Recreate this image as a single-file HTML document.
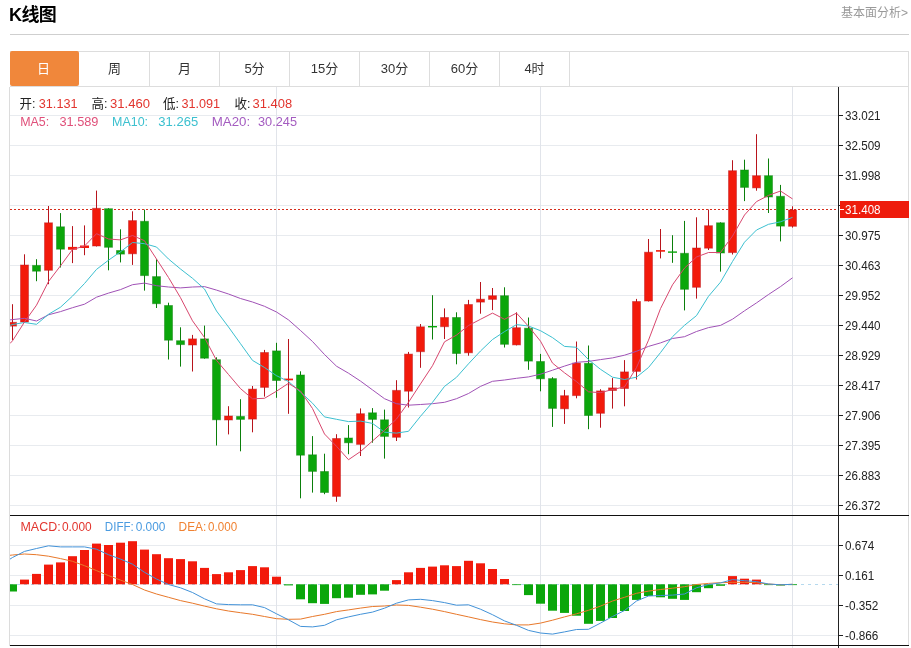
<!DOCTYPE html>
<html lang="zh-CN"><head><meta charset="utf-8"><title>K线图</title>
<style>
html,body{margin:0;padding:0;background:#fff;}
body{width:911px;height:648px;overflow:hidden;position:relative;font-family:"Liberation Sans","Noto Sans CJK SC",sans-serif;}
.title{position:absolute;left:9px;top:2.5px;font-size:18px;font-weight:bold;color:#000;line-height:24px;letter-spacing:-0.6px}
.more{position:absolute;right:3px;top:4px;font-size:12px;color:#999;line-height:18px;}
.hr{position:absolute;left:10px;top:34px;width:899px;height:1px;background:#cfcfcf;}
.tabs{position:absolute;left:10px;top:51px;width:898px;height:34px;border:1px solid #ddd;border-left:none;}
.tab{position:absolute;top:0;width:69px;height:34px;border-right:1px solid #ddd;text-align:center;line-height:34px;font-size:13px;color:#333;}
.tab.on{background:#f0873b;color:#fff;top:-1px;height:35px;line-height:35px;border-right:none;width:67px;padding-right:2px;border-radius:2px}
</style></head><body>
<svg width="911" height="648" viewBox="0 0 911 648" style="position:absolute;left:0;top:0">
<defs><clipPath id="cp"><rect x="10" y="87" width="829" height="560"/></clipPath></defs>
<g shape-rendering="crispEdges" fill="#e8ebef">
<rect x="10" y="115" width="828" height="1"/>
<rect x="10" y="145" width="828" height="1"/>
<rect x="10" y="175" width="828" height="1"/>
<rect x="10" y="205" width="828" height="1"/>
<rect x="10" y="235" width="828" height="1"/>
<rect x="10" y="265" width="828" height="1"/>
<rect x="10" y="295" width="828" height="1"/>
<rect x="10" y="325" width="828" height="1"/>
<rect x="10" y="355" width="828" height="1"/>
<rect x="10" y="385" width="828" height="1"/>
<rect x="10" y="415" width="828" height="1"/>
<rect x="10" y="445" width="828" height="1"/>
<rect x="10" y="475" width="828" height="1"/>
<rect x="10" y="505" width="828" height="1"/>
<rect x="10" y="545" width="828" height="1"/>
<rect x="10" y="575" width="828" height="1"/>
<rect x="10" y="605" width="828" height="1"/>
<rect x="10" y="635" width="828" height="1"/>
<rect x="276" y="87" width="1" height="561" fill="#e1e4ea"/>
<rect x="540" y="87" width="1" height="561" fill="#e1e4ea"/>
<rect x="792" y="87" width="1" height="561" fill="#e1e4ea"/>
<rect x="9" y="87" width="1" height="559" fill="#dcdcdc"/>
<rect x="908" y="87" width="1" height="559" fill="#dddddd"/>
</g>
<line x1="10" y1="584.5" x2="838" y2="584.5" stroke="#b5d9ee" stroke-width="1" stroke-dasharray="3,4"/>
<line x1="10" y1="209.5" x2="838" y2="209.5" stroke="#d62c1c" stroke-width="1" stroke-dasharray="2,2"/>
<g clip-path="url(#cp)">
<rect x="12.0" y="304.2" width="1" height="35.9" fill="#b8141c"/>
<rect x="8.5" y="322.3" width="8" height="3.8" fill="#f21a0b" stroke="#b8141c" stroke-opacity="0.45" stroke-width="1"/>
<rect x="24.0" y="254.3" width="1" height="68.2" fill="#b8141c"/>
<rect x="20.5" y="265.0" width="8" height="57.0" fill="#f21a0b" stroke="#b8141c" stroke-opacity="0.45" stroke-width="1"/>
<rect x="36.0" y="259.2" width="1" height="22.0" fill="#0b7f0b"/>
<rect x="32.5" y="265.4" width="8" height="5.8" fill="#0ba60b" stroke="#0b7f0b" stroke-opacity="0.45" stroke-width="1"/>
<rect x="48.0" y="206.0" width="1" height="78.2" fill="#b8141c"/>
<rect x="44.5" y="222.8" width="8" height="47.5" fill="#f21a0b" stroke="#b8141c" stroke-opacity="0.45" stroke-width="1"/>
<rect x="60.0" y="213.1" width="1" height="54.4" fill="#0b7f0b"/>
<rect x="56.5" y="226.8" width="8" height="22.4" fill="#0ba60b" stroke="#0b7f0b" stroke-opacity="0.45" stroke-width="1"/>
<rect x="72.0" y="226.1" width="1" height="37.0" fill="#b8141c"/>
<rect x="68.0" y="246.9" width="9" height="2.8" fill="#f21a0b"/>
<rect x="84.0" y="225.4" width="1" height="29.8" fill="#b8141c"/>
<rect x="80.0" y="245.5" width="9" height="2.5" fill="#f21a0b"/>
<rect x="96.0" y="190.6" width="1" height="55.9" fill="#b8141c"/>
<rect x="92.5" y="208.3" width="8" height="37.7" fill="#f21a0b" stroke="#b8141c" stroke-opacity="0.45" stroke-width="1"/>
<rect x="108.0" y="208.2" width="1" height="62.1" fill="#0b7f0b"/>
<rect x="104.5" y="208.7" width="8" height="38.6" fill="#0ba60b" stroke="#0b7f0b" stroke-opacity="0.45" stroke-width="1"/>
<rect x="120.0" y="229.3" width="1" height="33.1" fill="#0b7f0b"/>
<rect x="116.5" y="250.5" width="8" height="3.6" fill="#0ba60b" stroke="#0b7f0b" stroke-opacity="0.45" stroke-width="1"/>
<rect x="132.0" y="211.3" width="1" height="53.6" fill="#b8141c"/>
<rect x="128.5" y="220.6" width="8" height="33.2" fill="#f21a0b" stroke="#b8141c" stroke-opacity="0.45" stroke-width="1"/>
<rect x="144.0" y="209.6" width="1" height="81.0" fill="#0b7f0b"/>
<rect x="140.5" y="221.3" width="8" height="54.3" fill="#0ba60b" stroke="#0b7f0b" stroke-opacity="0.45" stroke-width="1"/>
<rect x="156.0" y="259.2" width="1" height="48.8" fill="#0b7f0b"/>
<rect x="152.5" y="276.6" width="8" height="27.1" fill="#0ba60b" stroke="#0b7f0b" stroke-opacity="0.45" stroke-width="1"/>
<rect x="168.0" y="302.7" width="1" height="56.8" fill="#0b7f0b"/>
<rect x="164.5" y="305.5" width="8" height="34.7" fill="#0ba60b" stroke="#0b7f0b" stroke-opacity="0.45" stroke-width="1"/>
<rect x="180.0" y="327.3" width="1" height="39.3" fill="#0b7f0b"/>
<rect x="176.5" y="340.7" width="8" height="3.9" fill="#0ba60b" stroke="#0b7f0b" stroke-opacity="0.45" stroke-width="1"/>
<rect x="192.0" y="334.9" width="1" height="36.6" fill="#b8141c"/>
<rect x="188.5" y="338.9" width="8" height="6.1" fill="#f21a0b" stroke="#b8141c" stroke-opacity="0.45" stroke-width="1"/>
<rect x="204.0" y="325.6" width="1" height="33.1" fill="#0b7f0b"/>
<rect x="200.5" y="338.9" width="8" height="19.3" fill="#0ba60b" stroke="#0b7f0b" stroke-opacity="0.45" stroke-width="1"/>
<rect x="216.0" y="357.3" width="1" height="88.2" fill="#0b7f0b"/>
<rect x="212.5" y="359.7" width="8" height="60.1" fill="#0ba60b" stroke="#0b7f0b" stroke-opacity="0.45" stroke-width="1"/>
<rect x="228.0" y="406.2" width="1" height="28.2" fill="#b8141c"/>
<rect x="224.5" y="416.0" width="8" height="4.0" fill="#f21a0b" stroke="#b8141c" stroke-opacity="0.45" stroke-width="1"/>
<rect x="240.0" y="399.2" width="1" height="52.1" fill="#0b7f0b"/>
<rect x="236.5" y="416.4" width="8" height="3.0" fill="#0ba60b" stroke="#0b7f0b" stroke-opacity="0.45" stroke-width="1"/>
<rect x="252.0" y="386.0" width="1" height="46.3" fill="#b8141c"/>
<rect x="248.5" y="389.1" width="8" height="30.0" fill="#f21a0b" stroke="#b8141c" stroke-opacity="0.45" stroke-width="1"/>
<rect x="264.0" y="349.9" width="1" height="46.7" fill="#b8141c"/>
<rect x="260.5" y="352.5" width="8" height="34.9" fill="#f21a0b" stroke="#b8141c" stroke-opacity="0.45" stroke-width="1"/>
<rect x="276.0" y="342.8" width="1" height="55.0" fill="#0b7f0b"/>
<rect x="272.5" y="350.9" width="8" height="29.6" fill="#0ba60b" stroke="#0b7f0b" stroke-opacity="0.45" stroke-width="1"/>
<rect x="288.0" y="339.0" width="1" height="74.8" fill="#b8141c"/>
<rect x="284.0" y="378.6" width="9" height="1.7" fill="#f21a0b"/>
<rect x="300.0" y="371.3" width="1" height="127.0" fill="#0b7f0b"/>
<rect x="296.5" y="375.0" width="8" height="80.2" fill="#0ba60b" stroke="#0b7f0b" stroke-opacity="0.45" stroke-width="1"/>
<rect x="312.0" y="436.1" width="1" height="56.5" fill="#0b7f0b"/>
<rect x="308.5" y="454.8" width="8" height="16.6" fill="#0ba60b" stroke="#0b7f0b" stroke-opacity="0.45" stroke-width="1"/>
<rect x="324.0" y="453.7" width="1" height="40.5" fill="#0b7f0b"/>
<rect x="320.5" y="471.5" width="8" height="21.0" fill="#0ba60b" stroke="#0b7f0b" stroke-opacity="0.45" stroke-width="1"/>
<rect x="336.0" y="434.2" width="1" height="67.6" fill="#b8141c"/>
<rect x="332.5" y="438.5" width="8" height="57.9" fill="#f21a0b" stroke="#b8141c" stroke-opacity="0.45" stroke-width="1"/>
<rect x="348.0" y="425.1" width="1" height="29.1" fill="#0b7f0b"/>
<rect x="344.5" y="438.0" width="8" height="4.8" fill="#0ba60b" stroke="#0b7f0b" stroke-opacity="0.45" stroke-width="1"/>
<rect x="360.0" y="408.4" width="1" height="47.6" fill="#b8141c"/>
<rect x="356.5" y="413.7" width="8" height="30.7" fill="#f21a0b" stroke="#b8141c" stroke-opacity="0.45" stroke-width="1"/>
<rect x="372.0" y="408.1" width="1" height="34.6" fill="#0b7f0b"/>
<rect x="368.5" y="412.8" width="8" height="6.6" fill="#0ba60b" stroke="#0b7f0b" stroke-opacity="0.45" stroke-width="1"/>
<rect x="384.0" y="409.6" width="1" height="49.0" fill="#0b7f0b"/>
<rect x="380.5" y="419.8" width="8" height="16.6" fill="#0ba60b" stroke="#0b7f0b" stroke-opacity="0.45" stroke-width="1"/>
<rect x="396.0" y="380.2" width="1" height="60.8" fill="#b8141c"/>
<rect x="392.5" y="390.4" width="8" height="46.9" fill="#f21a0b" stroke="#b8141c" stroke-opacity="0.45" stroke-width="1"/>
<rect x="408.0" y="351.9" width="1" height="55.6" fill="#b8141c"/>
<rect x="404.5" y="354.1" width="8" height="37.1" fill="#f21a0b" stroke="#b8141c" stroke-opacity="0.45" stroke-width="1"/>
<rect x="420.0" y="324.0" width="1" height="43.8" fill="#b8141c"/>
<rect x="416.5" y="326.8" width="8" height="24.9" fill="#f21a0b" stroke="#b8141c" stroke-opacity="0.45" stroke-width="1"/>
<rect x="432.0" y="295.2" width="1" height="44.3" fill="#0b7f0b"/>
<rect x="428.0" y="326.0" width="9" height="1.4" fill="#0ba60b"/>
<rect x="444.0" y="308.4" width="1" height="30.6" fill="#b8141c"/>
<rect x="440.5" y="317.5" width="8" height="9.2" fill="#f21a0b" stroke="#b8141c" stroke-opacity="0.45" stroke-width="1"/>
<rect x="456.0" y="312.3" width="1" height="52.0" fill="#0b7f0b"/>
<rect x="452.5" y="317.5" width="8" height="36.0" fill="#0ba60b" stroke="#0b7f0b" stroke-opacity="0.45" stroke-width="1"/>
<rect x="468.0" y="299.9" width="1" height="55.8" fill="#b8141c"/>
<rect x="464.5" y="304.5" width="8" height="48.3" fill="#f21a0b" stroke="#b8141c" stroke-opacity="0.45" stroke-width="1"/>
<rect x="480.0" y="282.0" width="1" height="31.7" fill="#b8141c"/>
<rect x="476.5" y="299.2" width="8" height="2.9" fill="#f21a0b" stroke="#b8141c" stroke-opacity="0.45" stroke-width="1"/>
<rect x="492.0" y="288.0" width="1" height="22.1" fill="#b8141c"/>
<rect x="488.5" y="295.7" width="8" height="3.7" fill="#f21a0b" stroke="#b8141c" stroke-opacity="0.45" stroke-width="1"/>
<rect x="504.0" y="287.3" width="1" height="60.2" fill="#0b7f0b"/>
<rect x="500.5" y="295.7" width="8" height="48.6" fill="#0ba60b" stroke="#0b7f0b" stroke-opacity="0.45" stroke-width="1"/>
<rect x="516.0" y="312.3" width="1" height="33.1" fill="#b8141c"/>
<rect x="512.5" y="327.7" width="8" height="17.2" fill="#f21a0b" stroke="#b8141c" stroke-opacity="0.45" stroke-width="1"/>
<rect x="528.0" y="317.5" width="1" height="52.3" fill="#0b7f0b"/>
<rect x="524.5" y="328.2" width="8" height="32.9" fill="#0ba60b" stroke="#0b7f0b" stroke-opacity="0.45" stroke-width="1"/>
<rect x="540.0" y="353.9" width="1" height="37.4" fill="#0b7f0b"/>
<rect x="536.5" y="361.5" width="8" height="17.3" fill="#0ba60b" stroke="#0b7f0b" stroke-opacity="0.45" stroke-width="1"/>
<rect x="552.0" y="377.2" width="1" height="49.7" fill="#0b7f0b"/>
<rect x="548.5" y="378.6" width="8" height="29.8" fill="#0ba60b" stroke="#0b7f0b" stroke-opacity="0.45" stroke-width="1"/>
<rect x="564.0" y="389.9" width="1" height="34.0" fill="#b8141c"/>
<rect x="560.5" y="395.7" width="8" height="13.1" fill="#f21a0b" stroke="#b8141c" stroke-opacity="0.45" stroke-width="1"/>
<rect x="576.0" y="341.5" width="1" height="56.8" fill="#b8141c"/>
<rect x="572.5" y="363.1" width="8" height="32.5" fill="#f21a0b" stroke="#b8141c" stroke-opacity="0.45" stroke-width="1"/>
<rect x="588.0" y="345.5" width="1" height="83.7" fill="#0b7f0b"/>
<rect x="584.5" y="363.3" width="8" height="52.2" fill="#0ba60b" stroke="#0b7f0b" stroke-opacity="0.45" stroke-width="1"/>
<rect x="600.0" y="389.2" width="1" height="38.5" fill="#b8141c"/>
<rect x="596.5" y="390.9" width="8" height="22.4" fill="#f21a0b" stroke="#b8141c" stroke-opacity="0.45" stroke-width="1"/>
<rect x="612.0" y="378.1" width="1" height="30.5" fill="#b8141c"/>
<rect x="608.5" y="387.9" width="8" height="2.6" fill="#f21a0b" stroke="#b8141c" stroke-opacity="0.45" stroke-width="1"/>
<rect x="624.0" y="360.1" width="1" height="46.2" fill="#b8141c"/>
<rect x="620.5" y="371.9" width="8" height="16.6" fill="#f21a0b" stroke="#b8141c" stroke-opacity="0.45" stroke-width="1"/>
<rect x="636.0" y="298.9" width="1" height="80.6" fill="#b8141c"/>
<rect x="632.5" y="301.5" width="8" height="69.9" fill="#f21a0b" stroke="#b8141c" stroke-opacity="0.45" stroke-width="1"/>
<rect x="648.0" y="239.0" width="1" height="62.5" fill="#b8141c"/>
<rect x="644.5" y="252.2" width="8" height="48.8" fill="#f21a0b" stroke="#b8141c" stroke-opacity="0.45" stroke-width="1"/>
<rect x="660.0" y="229.0" width="1" height="29.4" fill="#b8141c"/>
<rect x="656.0" y="250.1" width="9" height="1.6" fill="#f21a0b"/>
<rect x="672.0" y="235.2" width="1" height="27.6" fill="#0b7f0b"/>
<rect x="668.0" y="251.4" width="9" height="1.4" fill="#0ba60b"/>
<rect x="684.0" y="220.9" width="1" height="89.5" fill="#0b7f0b"/>
<rect x="680.5" y="253.3" width="8" height="36.0" fill="#0ba60b" stroke="#0b7f0b" stroke-opacity="0.45" stroke-width="1"/>
<rect x="696.0" y="217.3" width="1" height="81.3" fill="#b8141c"/>
<rect x="692.5" y="248.0" width="8" height="39.3" fill="#f21a0b" stroke="#b8141c" stroke-opacity="0.45" stroke-width="1"/>
<rect x="708.0" y="209.5" width="1" height="40.5" fill="#b8141c"/>
<rect x="704.5" y="225.7" width="8" height="22.5" fill="#f21a0b" stroke="#b8141c" stroke-opacity="0.45" stroke-width="1"/>
<rect x="720.0" y="222.3" width="1" height="49.3" fill="#0b7f0b"/>
<rect x="716.5" y="222.8" width="8" height="30.2" fill="#0ba60b" stroke="#0b7f0b" stroke-opacity="0.45" stroke-width="1"/>
<rect x="732.0" y="160.2" width="1" height="94.3" fill="#b8141c"/>
<rect x="728.5" y="170.7" width="8" height="81.9" fill="#f21a0b" stroke="#b8141c" stroke-opacity="0.45" stroke-width="1"/>
<rect x="744.0" y="159.7" width="1" height="41.4" fill="#0b7f0b"/>
<rect x="740.5" y="170.0" width="8" height="17.4" fill="#0ba60b" stroke="#0b7f0b" stroke-opacity="0.45" stroke-width="1"/>
<rect x="756.0" y="134.2" width="1" height="56.5" fill="#b8141c"/>
<rect x="752.5" y="175.7" width="8" height="12.2" fill="#f21a0b" stroke="#b8141c" stroke-opacity="0.45" stroke-width="1"/>
<rect x="768.0" y="158.5" width="1" height="54.5" fill="#0b7f0b"/>
<rect x="764.5" y="175.7" width="8" height="21.3" fill="#0ba60b" stroke="#0b7f0b" stroke-opacity="0.45" stroke-width="1"/>
<rect x="780.0" y="184.9" width="1" height="56.5" fill="#0b7f0b"/>
<rect x="776.5" y="196.3" width="8" height="29.8" fill="#0ba60b" stroke="#0b7f0b" stroke-opacity="0.45" stroke-width="1"/>
<rect x="792.0" y="206.3" width="1" height="21.3" fill="#b8141c"/>
<rect x="788.5" y="210.0" width="8" height="16.3" fill="#f21a0b" stroke="#b8141c" stroke-opacity="0.45" stroke-width="1"/>
<rect x="8.0" y="584.3" width="9" height="7.2" fill="#0ba60b"/>
<rect x="20.0" y="579.6" width="9" height="4.7" fill="#f21a0b"/>
<rect x="32.0" y="573.9" width="9" height="10.4" fill="#f21a0b"/>
<rect x="44.0" y="564.6" width="9" height="19.7" fill="#f21a0b"/>
<rect x="56.0" y="562.4" width="9" height="21.9" fill="#f21a0b"/>
<rect x="68.0" y="556.2" width="9" height="28.1" fill="#f21a0b"/>
<rect x="80.0" y="550.0" width="9" height="34.3" fill="#f21a0b"/>
<rect x="92.0" y="543.6" width="9" height="40.7" fill="#f21a0b"/>
<rect x="104.0" y="545.0" width="9" height="39.3" fill="#f21a0b"/>
<rect x="116.0" y="542.7" width="9" height="41.6" fill="#f21a0b"/>
<rect x="128.0" y="541.2" width="9" height="43.1" fill="#f21a0b"/>
<rect x="140.0" y="549.6" width="9" height="34.7" fill="#f21a0b"/>
<rect x="152.0" y="554.2" width="9" height="30.1" fill="#f21a0b"/>
<rect x="164.0" y="558.2" width="9" height="26.1" fill="#f21a0b"/>
<rect x="176.0" y="559.1" width="9" height="25.2" fill="#f21a0b"/>
<rect x="188.0" y="561.3" width="9" height="23.0" fill="#f21a0b"/>
<rect x="200.0" y="567.9" width="9" height="16.4" fill="#f21a0b"/>
<rect x="212.0" y="574.1" width="9" height="10.2" fill="#f21a0b"/>
<rect x="224.0" y="572.3" width="9" height="12.0" fill="#f21a0b"/>
<rect x="236.0" y="570.1" width="9" height="14.2" fill="#f21a0b"/>
<rect x="248.0" y="566.1" width="9" height="18.2" fill="#f21a0b"/>
<rect x="260.0" y="567.3" width="9" height="17.0" fill="#f21a0b"/>
<rect x="272.0" y="576.7" width="9" height="7.6" fill="#f21a0b"/>
<rect x="284.0" y="584.3" width="9" height="1.1" fill="#0ba60b"/>
<rect x="296.0" y="584.3" width="9" height="15.0" fill="#0ba60b"/>
<rect x="308.0" y="584.3" width="9" height="18.9" fill="#0ba60b"/>
<rect x="320.0" y="584.3" width="9" height="19.6" fill="#0ba60b"/>
<rect x="332.0" y="584.3" width="9" height="13.9" fill="#0ba60b"/>
<rect x="344.0" y="584.3" width="9" height="13.4" fill="#0ba60b"/>
<rect x="356.0" y="584.3" width="9" height="10.5" fill="#0ba60b"/>
<rect x="368.0" y="584.3" width="9" height="10.1" fill="#0ba60b"/>
<rect x="380.0" y="584.3" width="9" height="6.4" fill="#0ba60b"/>
<rect x="392.0" y="580.1" width="9" height="4.2" fill="#f21a0b"/>
<rect x="404.0" y="572.3" width="9" height="12.0" fill="#f21a0b"/>
<rect x="416.0" y="567.9" width="9" height="16.4" fill="#f21a0b"/>
<rect x="428.0" y="566.6" width="9" height="17.7" fill="#f21a0b"/>
<rect x="440.0" y="565.3" width="9" height="19.0" fill="#f21a0b"/>
<rect x="452.0" y="566.1" width="9" height="18.2" fill="#f21a0b"/>
<rect x="464.0" y="560.8" width="9" height="23.5" fill="#f21a0b"/>
<rect x="476.0" y="563.3" width="9" height="21.0" fill="#f21a0b"/>
<rect x="488.0" y="569.0" width="9" height="15.3" fill="#f21a0b"/>
<rect x="500.0" y="579.0" width="9" height="5.3" fill="#f21a0b"/>
<rect x="512.0" y="584.3" width="9" height="0.8" fill="#0ba60b"/>
<rect x="524.0" y="584.3" width="9" height="10.8" fill="#0ba60b"/>
<rect x="536.0" y="584.3" width="9" height="19.4" fill="#0ba60b"/>
<rect x="548.0" y="584.3" width="9" height="26.4" fill="#0ba60b"/>
<rect x="560.0" y="584.3" width="9" height="28.6" fill="#0ba60b"/>
<rect x="572.0" y="584.3" width="9" height="31.4" fill="#0ba60b"/>
<rect x="584.0" y="584.3" width="9" height="39.5" fill="#0ba60b"/>
<rect x="596.0" y="584.3" width="9" height="36.6" fill="#0ba60b"/>
<rect x="608.0" y="584.3" width="9" height="33.7" fill="#0ba60b"/>
<rect x="620.0" y="584.3" width="9" height="26.7" fill="#0ba60b"/>
<rect x="632.0" y="584.3" width="9" height="15.6" fill="#0ba60b"/>
<rect x="644.0" y="584.3" width="9" height="11.7" fill="#0ba60b"/>
<rect x="656.0" y="584.3" width="9" height="13.0" fill="#0ba60b"/>
<rect x="668.0" y="584.3" width="9" height="14.5" fill="#0ba60b"/>
<rect x="680.0" y="584.3" width="9" height="15.6" fill="#0ba60b"/>
<rect x="692.0" y="584.3" width="9" height="7.9" fill="#0ba60b"/>
<rect x="704.0" y="584.3" width="9" height="3.9" fill="#0ba60b"/>
<rect x="716.0" y="584.3" width="9" height="1.5" fill="#0ba60b"/>
<rect x="728.0" y="576.1" width="9" height="8.2" fill="#f21a0b"/>
<rect x="740.0" y="578.7" width="9" height="5.6" fill="#f21a0b"/>
<rect x="752.0" y="579.6" width="9" height="4.7" fill="#f21a0b"/>
<rect x="764.0" y="584.3" width="9" height="0.8" fill="#0ba60b"/>
<rect x="776.0" y="584.3" width="9" height="1.2" fill="#0ba60b"/>
<rect x="788.0" y="584.3" width="9" height="0.8" fill="#0ba60b"/>
<polyline fill="none" stroke="#a052b6" stroke-width="1.0" stroke-linejoin="round" points="10,319.9 12.5,319.6 24.5,318.3 36.5,321.0 48.5,314.8 60.5,311.6 72.5,307.7 84.5,304.2 96.5,297.2 108.5,293.1 120.5,289.6 132.5,284.7 144.5,283.1 156.5,285.7 168.5,287.0 180.5,287.9 192.5,287.0 204.5,286.6 216.5,290.1 228.5,294.0 240.5,298.5 252.5,302.0 264.5,306.3 276.5,312.0 288.5,319.9 300.5,330.5 312.5,341.5 324.5,354.5 336.5,366.2 348.5,373.2 360.5,381.1 372.5,389.9 384.5,398.7 396.5,403.7 408.5,405.2 420.5,404.5 432.5,403.7 444.5,402.3 456.5,398.7 468.5,393.5 480.5,386.4 492.5,381.3 504.5,380.0 516.5,378.3 528.5,376.9 540.5,374.2 552.5,370.2 564.5,366.1 576.5,362.3 588.5,361.4 600.5,359.6 612.5,357.9 624.5,355.2 636.5,351.3 648.5,346.4 660.5,342.9 672.5,338.5 684.5,336.7 696.5,331.5 708.5,327.6 720.5,325.4 732.5,319.2 744.5,310.8 756.5,302.9 768.5,294.5 780.5,286.6 792.5,277.8"/>
<polyline fill="none" stroke="#3cc0d0" stroke-width="1.0" stroke-linejoin="round" points="10,325.4 12.5,324.5 24.5,322.5 36.5,324.3 48.5,314.3 60.5,307.2 72.5,296.1 84.5,283.5 96.5,269.4 108.5,260.2 120.5,251.8 132.5,242.5 144.5,243.7 156.5,247.0 168.5,259.0 180.5,269.0 192.5,278.3 204.5,289.0 216.5,311.0 228.5,327.0 240.5,343.7 252.5,360.4 264.5,367.5 276.5,375.7 288.5,381.5 300.5,392.0 312.5,403.2 324.5,416.9 336.5,419.3 348.5,421.6 360.5,421.1 372.5,423.4 384.5,432.2 396.5,433.1 408.5,431.3 420.5,416.3 432.5,402.3 444.5,386.4 456.5,377.3 468.5,363.8 480.5,351.0 492.5,339.5 504.5,331.6 516.5,324.6 528.5,326.0 540.5,330.7 552.5,337.6 564.5,346.4 576.5,347.3 588.5,359.6 600.5,369.3 612.5,377.2 624.5,379.5 636.5,377.2 648.5,367.5 660.5,352.6 672.5,336.7 684.5,325.3 696.5,315.6 708.5,296.3 720.5,282.2 732.5,261.5 744.5,242.2 756.5,230.0 768.5,224.3 780.5,221.8 792.5,217.4"/>
<polyline fill="none" stroke="#d8476e" stroke-width="1.0" stroke-linejoin="round" points="10,343.5 12.5,340.8 24.5,322.0 36.5,305.2 48.5,281.5 60.5,265.8 72.5,249.5 84.5,246.0 96.5,233.7 108.5,239.0 120.5,239.9 132.5,235.5 144.5,240.7 156.5,259.0 168.5,277.5 180.5,297.7 192.5,320.8 204.5,337.5 216.5,360.4 228.5,374.5 240.5,388.6 252.5,398.8 264.5,398.3 276.5,391.2 288.5,383.3 300.5,391.0 312.5,408.5 324.5,434.0 336.5,446.3 348.5,459.7 360.5,451.5 372.5,441.0 384.5,430.4 396.5,419.0 408.5,402.3 420.5,383.9 432.5,365.7 444.5,341.8 456.5,335.1 468.5,325.5 480.5,319.3 492.5,313.1 504.5,319.3 516.5,313.1 528.5,326.3 540.5,341.2 552.5,363.1 564.5,372.8 576.5,381.6 588.5,391.8 600.5,392.7 612.5,389.5 624.5,386.9 636.5,367.5 648.5,340.2 660.5,308.6 672.5,284.8 684.5,268.1 696.5,257.0 708.5,252.5 720.5,252.5 732.5,236.0 744.5,215.0 756.5,201.6 768.5,195.4 780.5,191.0 792.5,198.9"/>
<polyline fill="none" stroke="#e8782a" stroke-width="1.0" stroke-linejoin="round" points="10,555.3 12.5,555.0 24.5,554.0 36.5,554.7 48.5,556.2 60.5,558.6 72.5,561.3 84.5,565.7 96.5,570.6 108.5,575.6 120.5,580.1 132.5,584.5 144.5,590.0 156.5,594.0 168.5,597.3 180.5,600.6 192.5,603.2 204.5,606.1 216.5,608.8 228.5,611.0 240.5,612.7 252.5,614.3 264.5,616.5 276.5,618.7 288.5,619.3 300.5,619.1 312.5,616.5 324.5,614.3 336.5,611.6 348.5,609.9 360.5,608.1 372.5,606.5 384.5,606.0 396.5,605.0 408.5,605.4 420.5,607.2 432.5,609.2 444.5,611.6 456.5,614.3 468.5,616.9 480.5,619.6 492.5,622.0 504.5,623.8 516.5,624.9 528.5,624.9 540.5,623.1 552.5,620.2 564.5,616.9 576.5,613.8 588.5,610.3 600.5,606.1 612.5,601.0 624.5,597.3 636.5,593.3 648.5,591.1 660.5,589.5 672.5,588.2 684.5,586.7 696.5,584.5 708.5,583.4 720.5,582.7 732.5,582.3 744.5,582.3 756.5,582.7 768.5,584.0 780.5,584.8 792.5,584.3"/>
<polyline fill="none" stroke="#4292d8" stroke-width="1.0" stroke-linejoin="round" points="10,559.1 12.5,557.5 24.5,551.4 36.5,548.5 48.5,545.8 60.5,546.9 72.5,546.9 84.5,546.9 96.5,549.2 108.5,554.7 120.5,559.1 132.5,564.2 144.5,572.3 156.5,579.0 168.5,584.5 180.5,587.8 192.5,592.5 204.5,598.8 216.5,603.9 228.5,604.6 240.5,604.8 252.5,604.8 264.5,607.6 276.5,613.8 288.5,619.8 300.5,626.4 312.5,626.9 324.5,625.3 336.5,619.8 348.5,616.9 360.5,614.3 372.5,612.1 384.5,608.2 396.5,603.2 408.5,599.9 420.5,599.3 432.5,600.6 444.5,602.6 456.5,605.2 468.5,604.8 480.5,609.2 492.5,614.7 504.5,620.9 516.5,625.3 528.5,630.4 540.5,633.0 552.5,634.1 564.5,631.9 576.5,629.5 588.5,629.3 600.5,623.1 612.5,616.5 624.5,610.5 636.5,601.0 648.5,596.0 660.5,595.5 672.5,595.1 684.5,594.0 696.5,587.8 708.5,584.5 720.5,582.9 732.5,579.6 744.5,580.7 756.5,581.6 768.5,584.0 780.5,584.8 792.5,584.3"/>
</g>
<g shape-rendering="crispEdges" fill="#222">
<rect x="838" y="87" width="1" height="561"/>
<rect x="10" y="515" width="899" height="1" fill="#111"/>
<rect x="10" y="645" width="899" height="1" fill="#111"/>
<rect x="839" y="115" width="4" height="1"/>
<rect x="839" y="145" width="4" height="1"/>
<rect x="839" y="175" width="4" height="1"/>
<rect x="839" y="205" width="4" height="1"/>
<rect x="839" y="235" width="4" height="1"/>
<rect x="839" y="265" width="4" height="1"/>
<rect x="839" y="295" width="4" height="1"/>
<rect x="839" y="325" width="4" height="1"/>
<rect x="839" y="355" width="4" height="1"/>
<rect x="839" y="385" width="4" height="1"/>
<rect x="839" y="415" width="4" height="1"/>
<rect x="839" y="445" width="4" height="1"/>
<rect x="839" y="475" width="4" height="1"/>
<rect x="839" y="505" width="4" height="1"/>
<rect x="839" y="545" width="4" height="1"/>
<rect x="839" y="575" width="4" height="1"/>
<rect x="839" y="605" width="4" height="1"/>
<rect x="839" y="635" width="4" height="1"/>
</g>
<g font-family="Liberation Sans, Noto Sans CJK SC, sans-serif">
<text x="845" y="119.6" textLength="35.6" lengthAdjust="spacingAndGlyphs" font-size="12.4" fill="#222">33.021</text>
<text x="845" y="149.6" textLength="35.6" lengthAdjust="spacingAndGlyphs" font-size="12.4" fill="#222">32.509</text>
<text x="845" y="179.6" textLength="35.6" lengthAdjust="spacingAndGlyphs" font-size="12.4" fill="#222">31.998</text>
<text x="845" y="239.6" textLength="35.6" lengthAdjust="spacingAndGlyphs" font-size="12.4" fill="#222">30.975</text>
<text x="845" y="269.6" textLength="35.6" lengthAdjust="spacingAndGlyphs" font-size="12.4" fill="#222">30.463</text>
<text x="845" y="299.6" textLength="35.6" lengthAdjust="spacingAndGlyphs" font-size="12.4" fill="#222">29.952</text>
<text x="845" y="329.6" textLength="35.6" lengthAdjust="spacingAndGlyphs" font-size="12.4" fill="#222">29.440</text>
<text x="845" y="359.6" textLength="35.6" lengthAdjust="spacingAndGlyphs" font-size="12.4" fill="#222">28.929</text>
<text x="845" y="389.6" textLength="35.6" lengthAdjust="spacingAndGlyphs" font-size="12.4" fill="#222">28.417</text>
<text x="845" y="419.6" textLength="35.6" lengthAdjust="spacingAndGlyphs" font-size="12.4" fill="#222">27.906</text>
<text x="845" y="449.6" textLength="35.6" lengthAdjust="spacingAndGlyphs" font-size="12.4" fill="#222">27.395</text>
<text x="845" y="479.6" textLength="35.6" lengthAdjust="spacingAndGlyphs" font-size="12.4" fill="#222">26.883</text>
<text x="845" y="509.6" textLength="35.6" lengthAdjust="spacingAndGlyphs" font-size="12.4" fill="#222">26.372</text>
<text x="845" y="549.6" textLength="29.2" lengthAdjust="spacingAndGlyphs" font-size="12.4" fill="#222">0.674</text>
<text x="845" y="579.6" textLength="29.2" lengthAdjust="spacingAndGlyphs" font-size="12.4" fill="#222">0.161</text>
<text x="845" y="609.6" textLength="33.4" lengthAdjust="spacingAndGlyphs" font-size="12.4" fill="#222">-0.352</text>
<text x="845" y="639.6" textLength="33.4" lengthAdjust="spacingAndGlyphs" font-size="12.4" fill="#222">-0.866</text>
<rect x="840" y="200.5" width="68.5" height="17.5" fill="#ee1c0c" shape-rendering="crispEdges"/>
<rect x="840" y="209" width="4" height="1" fill="#fff" shape-rendering="crispEdges"/>
<text x="845" y="214.1" textLength="35.6" lengthAdjust="spacingAndGlyphs" font-size="12.4" fill="#fff">31.408</text>
<text x="19.5" y="108" textLength="16" lengthAdjust="spacingAndGlyphs" font-size="13" fill="#222">开:</text>
<text x="38.8" y="108" textLength="38.7" lengthAdjust="spacingAndGlyphs" font-size="13" fill="#e2352e">31.131</text>
<text x="91.5" y="108" textLength="16" lengthAdjust="spacingAndGlyphs" font-size="13" fill="#222">高:</text>
<text x="110" y="108" textLength="40" lengthAdjust="spacingAndGlyphs" font-size="13" fill="#e2352e">31.460</text>
<text x="162.9" y="108" textLength="16" lengthAdjust="spacingAndGlyphs" font-size="13" fill="#222">低:</text>
<text x="181.4" y="108" textLength="38.7" lengthAdjust="spacingAndGlyphs" font-size="13" fill="#e2352e">31.091</text>
<text x="234.6" y="108" textLength="16" lengthAdjust="spacingAndGlyphs" font-size="13" fill="#222">收:</text>
<text x="252.5" y="108" textLength="39.6" lengthAdjust="spacingAndGlyphs" font-size="13" fill="#e2352e">31.408</text>
<text x="20.2" y="125.7" textLength="29" lengthAdjust="spacingAndGlyphs" font-size="12.9" fill="#e0507a">MA5:</text>
<text x="59.4" y="125.7" textLength="39.1" lengthAdjust="spacingAndGlyphs" font-size="12.9" fill="#e0507a">31.589</text>
<text x="112.1" y="125.7" textLength="36" lengthAdjust="spacingAndGlyphs" font-size="12.9" fill="#3cc0cf">MA10:</text>
<text x="158.3" y="125.7" textLength="39.9" lengthAdjust="spacingAndGlyphs" font-size="12.9" fill="#3cc0cf">31.265</text>
<text x="211.8" y="125.7" textLength="38.4" lengthAdjust="spacingAndGlyphs" font-size="12.9" fill="#a45cc0">MA20:</text>
<text x="258" y="125.7" textLength="39" lengthAdjust="spacingAndGlyphs" font-size="12.9" fill="#a45cc0">30.245</text>
<text x="20.5" y="531" textLength="40.1" lengthAdjust="spacingAndGlyphs" font-size="12.3" fill="#e2352e">MACD:</text>
<text x="61.9" y="531" textLength="29.8" lengthAdjust="spacingAndGlyphs" font-size="12.3" fill="#e2352e">0.000</text>
<text x="104.8" y="531" textLength="29" lengthAdjust="spacingAndGlyphs" font-size="12.3" fill="#4a9be0">DIFF:</text>
<text x="135.7" y="531" textLength="29.7" lengthAdjust="spacingAndGlyphs" font-size="12.3" fill="#4a9be0">0.000</text>
<text x="178.6" y="531" textLength="27.7" lengthAdjust="spacingAndGlyphs" font-size="12.3" fill="#f08232">DEA:</text>
<text x="208.1" y="531" textLength="29" lengthAdjust="spacingAndGlyphs" font-size="12.3" fill="#f08232">0.000</text>
</g>
</svg>
<div class="title">K线图</div>
<div class="more">基本面分析&gt;</div>
<div class="hr"></div>
<div class="tabs">
<div class="tab on" style="left:0">日</div>
<div class="tab" style="left:70px">周</div>
<div class="tab" style="left:140px">月</div>
<div class="tab" style="left:210px">5分</div>
<div class="tab" style="left:280px">15分</div>
<div class="tab" style="left:350px">30分</div>
<div class="tab" style="left:420px">60分</div>
<div class="tab" style="left:490px">4时</div>
</div>
</body></html>
